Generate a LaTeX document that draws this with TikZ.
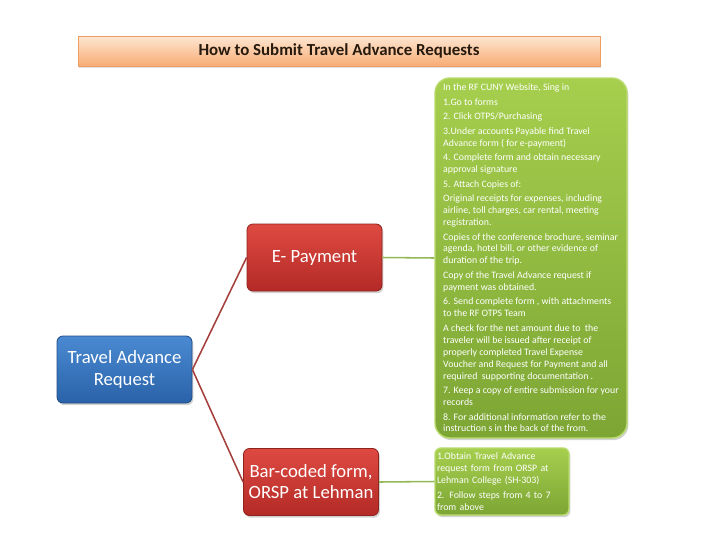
\documentclass[tikz,border=0pt]{standalone}
\usepackage{fontspec}
\setmainfont{Carlito}
\usetikzlibrary{shadows}
\hyphenpenalty=10000

\definecolor{blueTop}{HTML}{4A8AD2}
\definecolor{blueBot}{HTML}{2A62A8}
\definecolor{redTop}{HTML}{DE4A42}
\definecolor{redBot}{HTML}{B42A26}
\definecolor{greenTop}{HTML}{A6CF4E}
\definecolor{greenBot}{HTML}{7CA534}
\definecolor{greenEdge}{HTML}{B9DB6C}
\definecolor{peachTop}{HTML}{FDE6D2}
\definecolor{peachBot}{HTML}{F8AC74}
\definecolor{peachEdge}{HTML}{EE9E62}
\definecolor{linkRed}{HTML}{A5403D}
\definecolor{linkGreen}{HTML}{93B956}

\newcommand{\px}{0.025cm}

\begin{document}
\begin{tikzpicture}[x=0.025cm, y=-0.025cm,
    bigbox/.style={rounded corners=6*\px, draw=#1Bot!80!black, line width=0.6pt,
      top color=#1Top, bottom color=#1Bot, text=white, align=center,
      font=\fontsize{13.3}{15}\selectfont, inner sep=0pt,
      minimum width=135*\px, minimum height=67*\px,
      drop shadow={shadow xshift=1pt, shadow yshift=-1.5pt, opacity=0.35}},
    notebox/.style={draw=greenEdge, line width=1pt, top color=greenTop,
      bottom color=greenBot, text=white, align=left,
      font=\fontsize{7}{8.5}\selectfont,
      drop shadow={shadow xshift=1pt, shadow yshift=-1.5pt, opacity=0.35}},
    redlink/.style={draw=linkRed, line width=1.1pt},
    greenlink/.style={draw=linkGreen, line width=1.1pt}]

  % Page frame
  \useasboundingbox (0,0) rectangle (720,540);
  \fill[white] (0,0) rectangle (720,540);

  % Title bar
  \node[draw=peachEdge, line width=0.6pt, top color=peachTop, bottom color=peachBot,
    minimum width=522*\px, minimum height=30*\px, inner sep=0pt,
    text=black!80!brown, font=\fontsize{12}{14}\selectfont\bfseries,
    drop shadow={shadow xshift=1pt, shadow yshift=-1.5pt, opacity=0.25}]
    (title) at (339,51) {How to Submit Travel Advance Requests};

  % Root and the two ways
  \node[bigbox=blue] (request) at (124.5,369.5) {Travel Advance\\Request};
  \node[bigbox=red] (epay) at (314.5,257.5) {E- Payment};
  \node[bigbox=red] (barcode) at (311,482) {Bar-coded form,\\ORSP at Lehman};

  % Steps for e-payment
  \node[notebox, rounded corners=15*\px, minimum width=192*\px,
    minimum height=360*\px] (epaysteps) at (531,258) {%
    In the RF CUNY Website, Sing in\\[1.8pt]
    1.Go to forms\\[1.8pt]
    2. Click OTPS/Purchasing\\[1.8pt]
    3.Under accounts Payable find Travel\\Advance form ( for e-payment)\\[1.8pt]
    4. Complete form and obtain necessary\\approval signature\\[1.8pt]
    5. Attach Copies of:\\[1.8pt]
    Original receipts for expenses, including\\airline, toll charges, car rental, meeting\\registration.\\[1.8pt]
    Copies of the conference brochure, seminar\\agenda, hotel bill, or other evidence of\\duration of the trip.\\[1.8pt]
    Copy of the Travel Advance request if\\payment was obtained.\\[1.8pt]
    6. Send complete form , with attachments\\to the RF OTPS Team\\[1.8pt]
    A check for the net amount due to\ \ the\\traveler will be issued after receipt of\\properly completed Travel Expense\\Voucher and Request for Payment and all\\required\ \ supporting documentation .\\[1.8pt]
    7. Keep a copy of entire submission for your\\records\\[1.8pt]
    8. For additional information refer to the\\instruction s in the back of the from.};

  % Steps for the bar-coded form
  \node[notebox, rounded corners=6*\px, text width=130*\px, inner xsep=2*\px,
    minimum height=67*\px] (barsteps) at (502,481.5) {%
    1.Obtain Travel Advance\\request form from ORSP at\\Lehman College (SH-303)\\[1.8pt]
    2. Follow steps from 4 to 7\\from above};

  % Connectors
  \draw[redlink] (request.east) -- (epay.west);
  \draw[redlink] (request.east) -- (barcode.west);
  \draw[greenlink] (epay.east) -- (epaysteps.west);
  \draw[greenlink] (barcode.east) -- (barsteps.west);
\end{tikzpicture}
\end{document}
